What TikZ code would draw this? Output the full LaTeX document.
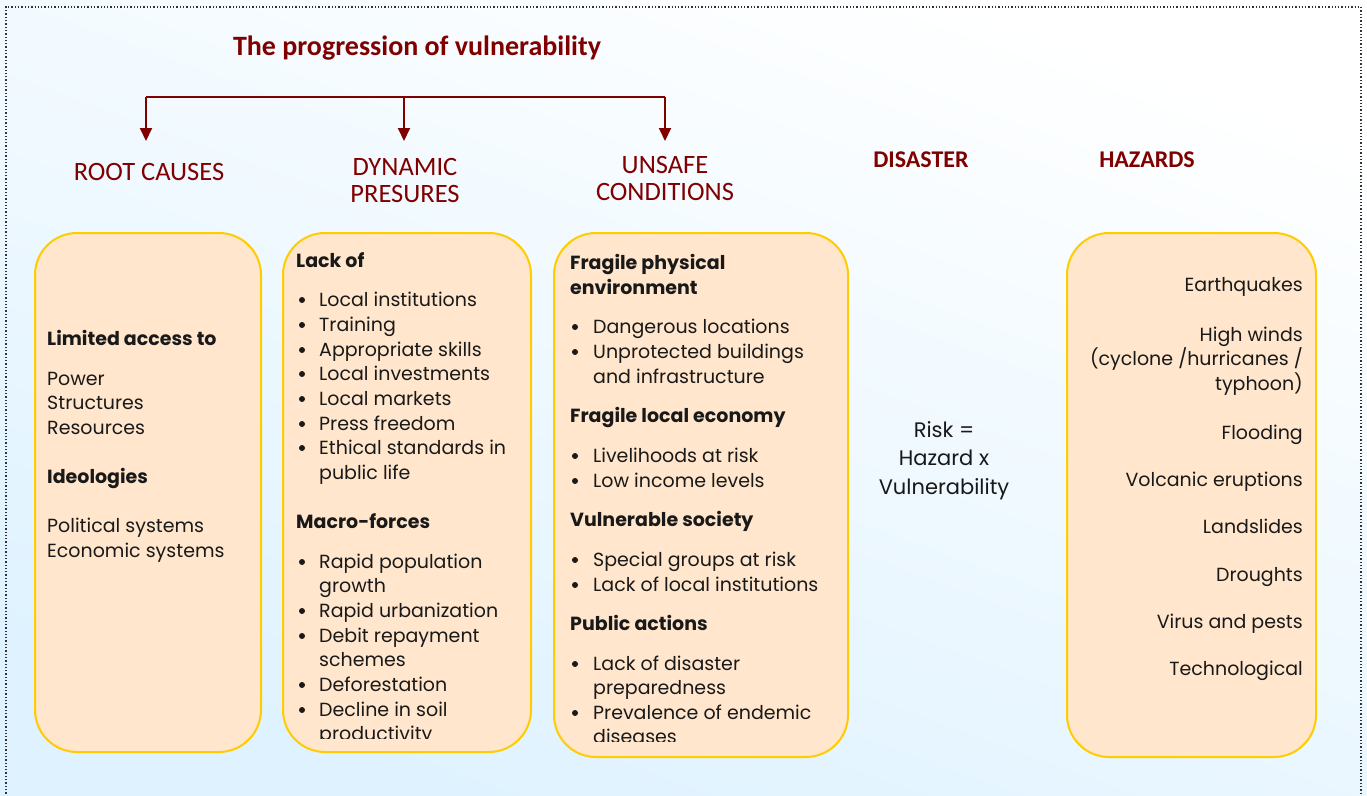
\documentclass[tikz,border=0pt]{standalone}
\usepackage{fontspec}
\setmainfont{Poppins}
\newfontfamily\headfont{Carlito}
\usetikzlibrary{arrows.meta}
\definecolor{titlered}{RGB}{128,0,0}
\definecolor{boxfill}{RGB}{255,230,204}
\definecolor{boxline}{RGB}{255,204,0}
\definecolor{bgblue}{RGB}{222,242,255}
\tikzset{
  card/.style={draw=boxline, fill=boxfill, line width=2pt, rounded corners=42pt, inner sep=0pt},
  body/.style={font=\fontsize{19}{24}\selectfont, inner sep=0pt, text=black!90},
  bodyhead/.style={font=\fontsize{19}{24}\selectfont\bfseries, inner sep=0pt, text=black!90},
  colhead/.style={font=\headfont\fontsize{26.5}{28}\selectfont, text=titlered, inner sep=0pt, anchor=base},
  flow/.style={draw=titlered, line width=2pt, -{Triangle[width=12pt,length=13pt]}}
}
\begin{document}
\begin{tikzpicture}[x=1pt,y=-1pt]
\useasboundingbox (0,0) rectangle (1367,795);
\shade[top color=white, bottom color=bgblue, shading angle=-20] (0,0) rectangle (1367,795);
\draw[dotted, line width=1.3pt, black!80] (6,810) -- (6,7) -- (1361,7) -- (1361,810);

%title and column heads
\node[font=\headfont\fontsize{28}{30}\selectfont\bfseries, text=titlered, anchor=base, inner sep=0pt] (title) at (417,55) {The progression of vulnerability};
\node[colhead] (rc) at (149,180) {ROOT CAUSES};
\node[colhead] (dp) at (405,175) {DYNAMIC};
\node[colhead] (dp2) at (405,202) {PRESURES};
\node[colhead] (uc) at (665,173) {UNSAFE};
\node[colhead] (uc2) at (665,200) {CONDITIONS};
\node[colhead, font=\headfont\fontsize{24}{26}\selectfont\bfseries] (dis) at (921,167) {DISASTER};
\node[colhead, font=\headfont\fontsize{24}{26}\selectfont\bfseries] (haz) at (1147,167) {HAZARDS};

%branching arrows
\coordinate (bar-rc) at (146,97);  \coordinate (tip-rc) at (146,141);
\coordinate (bar-dp) at (404,97);  \coordinate (tip-dp) at (404,141);
\coordinate (bar-uc) at (665,97);  \coordinate (tip-uc) at (665,141);
\draw[draw=titlered, line width=2pt] (bar-rc) -- (bar-uc);
\foreach \c in {rc,dp,uc} \draw[flow] (bar-\c) -- (tip-\c);

%boxes
\node[card, minimum width=226pt, minimum height=519pt] (rc-box) at (148,492.5) {};
\node[card, minimum width=248pt, minimum height=519pt] (dp-box) at (407,492.5) {};
\node[card, minimum width=294pt, minimum height=524pt] (uc-box) at (701,495) {};
\node[card, minimum width=249pt, minimum height=524pt] (hz-box) at (1191.5,495) {};

%root causes
\foreach \yy/\txt in {345/Limited access to, 483/Ideologies}
  \node[bodyhead, anchor=base west] (rc-\yy) at (47,\yy) {\txt};
\foreach \yy/\txt in {385/Power, 409/Structures, 434/Resources, 532/Political systems, 557/Economic systems}
  \node[body, anchor=base west] (rc-\yy) at (47,\yy) {\txt};

%dynamic pressures
\begin{scope}
\clip (0,0) rectangle (1367,738);
\foreach \yy/\txt in {267/Lack of, 528/Macro-forces}
  \node[bodyhead, anchor=base west] (dp-\yy) at (296,\yy) {\txt};
\foreach \yy/\txt in {306/Local institutions, 331/Training, 356/Appropriate skills, 380/Local investments,
  405/Local markets, 430/Press freedom, 454/Ethical standards in, 479/public life,
  568/Rapid population, 592/growth, 617/Rapid urbanization, 642/Debit repayment,
  666/schemes, 691/Deforestation, 716/Decline in soil, 740/productivity}
  \node[body, anchor=base west] (dp-\yy) at (319,\yy) {\txt};
\foreach \yy in {306,331,356,380,405,430,454,568,617,642,691,716}
  \fill[black!90] (302,\yy-6) circle (3pt);
\end{scope}

%unsafe conditions
\begin{scope}
\clip (0,0) rectangle (1367,741);
\foreach \yy/\txt in {269/Fragile physical, 294/environment, 422/Fragile local economy, 526/Vulnerable society, 630/Public actions}
  \node[bodyhead, anchor=base west] (uc-\yy) at (570,\yy) {\txt};
\foreach \yy/\txt in {333/Dangerous locations, 358/Unprotected buildings, 383/and infrastructure,
  462/Livelihoods at risk, 487/Low income levels, 566/Special groups at risk, 591/Lack of local institutions,
  670/Lack of disaster, 694/preparedness, 719/Prevalence of endemic, 743/diseases}
  \node[body, anchor=base west] (uc-\yy) at (593,\yy) {\txt};
\foreach \yy in {333,358,462,487,566,591,670,719}
  \fill[black!90] (575,\yy-6) circle (3pt);
\end{scope}

%disaster
\foreach \yy/\txt in {437/Risk =, 465/Hazard x, 494/Vulnerability}
  \node[body, font=\fontsize{21}{26}\selectfont, anchor=base] (dis-\yy) at (944,\yy) {\txt};

%hazards
\foreach \yy/\txt in {291/Earthquakes, 341/High winds, 365/{(cyclone /hurricanes /}, 390/typhoon),
  439/Flooding, 486/Volcanic eruptions, 533/Landslides, 581/Droughts, 628/Virus and pests, 675/Technological}
  \node[body, anchor=base east] (hz-\yy) at (1303,\yy) {\txt};
\end{tikzpicture}
\end{document}
